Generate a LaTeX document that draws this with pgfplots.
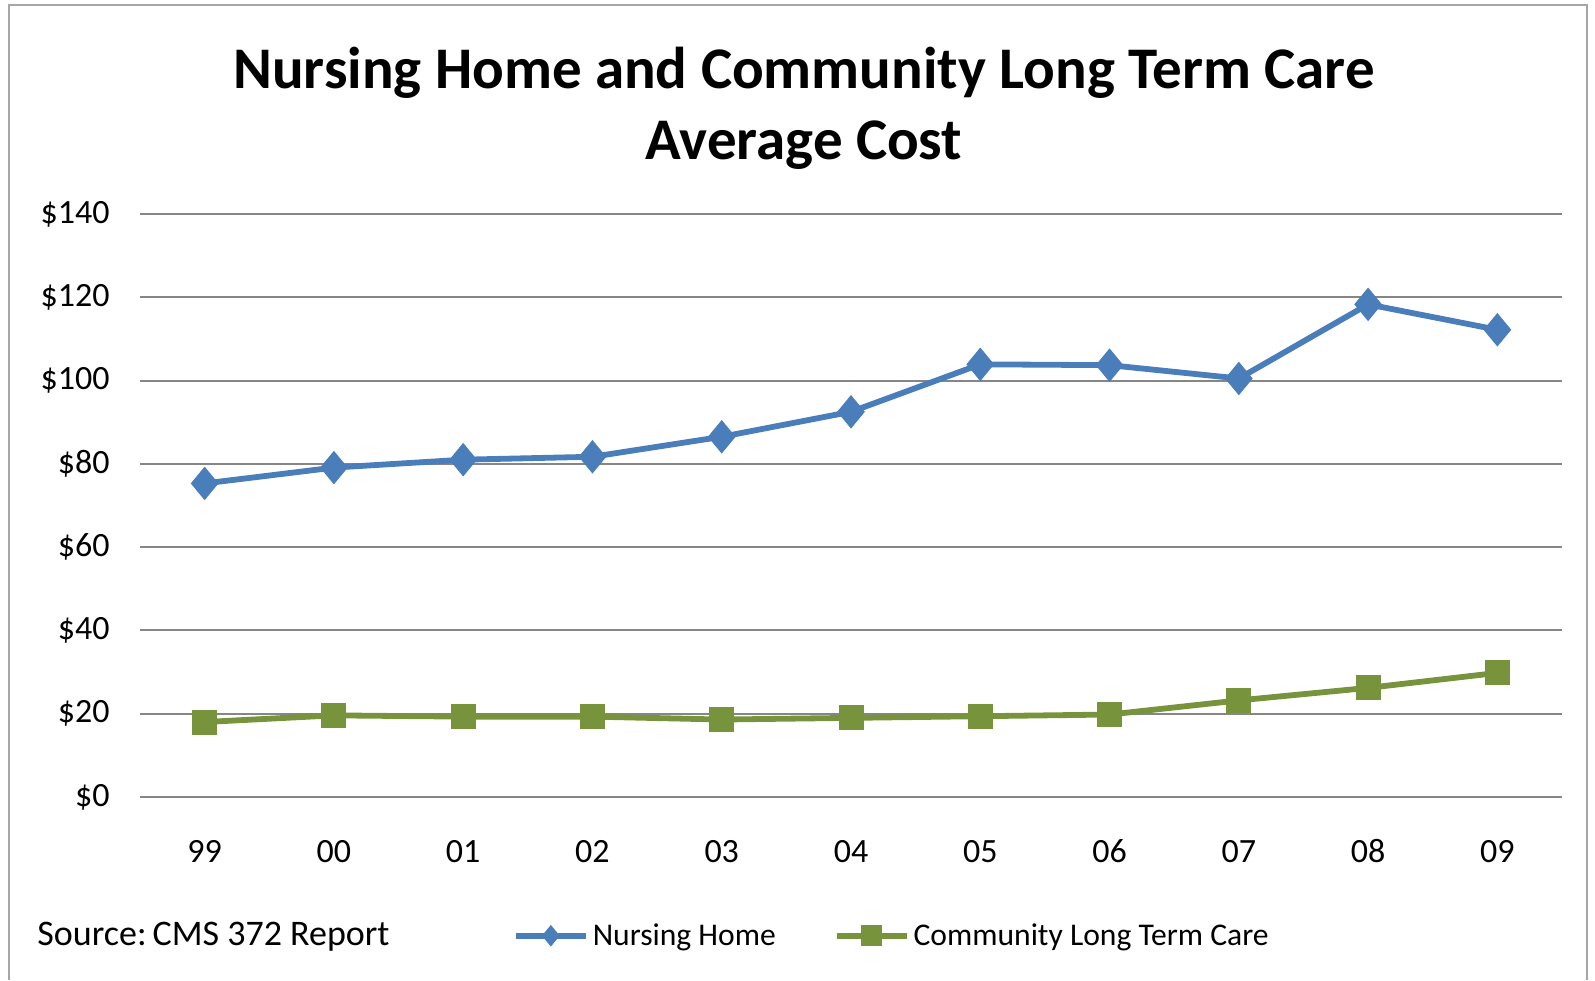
\documentclass[border=0pt]{standalone}
\usepackage{fontspec}
\setmainfont{Carlito}
\usepackage{pgfplots}
\pgfplotsset{compat=1.18}
\definecolor{nhblue}{RGB}{74,126,187}
\definecolor{cltgreen}{RGB}{119,147,60}
\definecolor{gridgray}{RGB}{134,134,134}
\begin{document}
\begin{tikzpicture}
\path[use as bounding box] (0pt,0pt) rectangle (797.5pt,490pt);
\draw[gray!70, line width=1pt] (4.5pt,0pt) -- (4.5pt,487.5pt) -- (793.5pt,487.5pt) -- (793.5pt,0pt);
\node[font=\fontsize{29.5}{35.5}\selectfont\bfseries, align=center] at (402pt,436pt) {Nursing Home and Community Long Term Care\\Average Cost};
\node[font=\fontsize{18}{20}\selectfont, anchor=west, inner sep=0pt] at (18.5pt,21.5pt) {Source:\,CMS 372 Report};
\begin{axis}[
  at={(70pt,91.5pt)}, anchor=south west, scale only axis, width=711pt, height=291.5pt,
  xmin=-0.5, xmax=10.5, ymin=0, ymax=140,
  xtick={0,...,10}, xticklabels={99,00,01,02,03,04,05,06,07,08,09},
  ytick={0,20,...,140}, yticklabels={\$0,\$20,\$40,\$60,\$80,\$100,\$120,\$140},
  ymajorgrids, grid style={gridgray, line width=1pt},
  axis line style={draw=none}, major tick length=0pt,
  tick label style={font=\fontsize{17}{20}\selectfont},
  xticklabel style={anchor=base, yshift=-32.5pt},
  yticklabel style={inner sep=0pt, xshift=-15pt, anchor=east},
  clip=false,
  legend style={at={(0.262,-0.238)}, anchor=west, draw=none, fill=none, legend columns=2,
    font=\fontsize{15.8}{19}\selectfont, inner sep=0pt,
    /tikz/every even column/.append style={column sep=27pt}},
  legend cell align=left,
  legend image code/.code={\draw[mark repeat=2, mark phase=2, #1, mark size=5pt] plot coordinates {(0pt,0pt) (17.5pt,0pt) (35pt,0pt)};},
]
\addplot[nhblue, line width=2.9pt, mark=diamond*, mark size=8pt, mark options={solid, line width=0.5pt, xscale=1.1}]
  coordinates {(0,75.3) (1,79.1) (2,81.0) (3,81.7) (4,86.5) (5,92.5) (6,103.9) (7,103.7) (8,100.5) (9,118.3) (10,112.2)};
\addlegendentry{Nursing Home}
\addplot[cltgreen, line width=2.9pt, mark=square*, mark size=6pt, mark options={solid, line width=0.5pt}]
  coordinates {(0,18.0) (1,19.6) (2,19.3) (3,19.3) (4,18.6) (5,19.0) (6,19.4) (7,19.8) (8,23.2) (9,26.2) (10,29.8)};
\addlegendentry{Community Long Term Care}
\end{axis}
\end{tikzpicture}
\end{document}
